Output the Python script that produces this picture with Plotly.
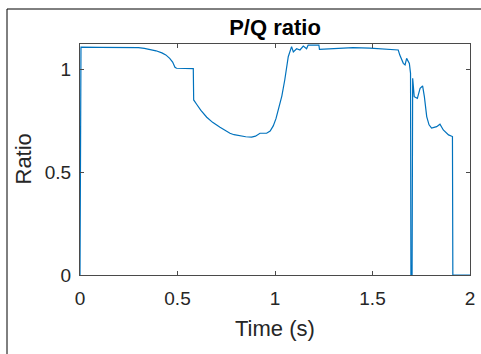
import plotly.graph_objects as go

# Data
time_s = [0, 0.005, 0.1, 0.2, 0.3, 0.33, 0.36, 0.39, 0.42, 0.44, 0.46, 0.475, 0.487, 0.495,
          0.581, 0.583, 0.598, 0.62, 0.65, 0.68, 0.718, 0.74, 0.769, 0.79, 0.82, 0.85, 0.88,
          0.9, 0.923, 0.957, 0.975, 0.991, 1.005, 1.017, 1.035, 1.05, 1.068,
          1.085, 1.094, 1.111, 1.128, 1.145, 1.162, 1.17, 1.2, 1.225, 1.228, 1.3, 1.4, 1.487,
          1.55, 1.632, 1.64, 1.658, 1.667, 1.675, 1.689, 1.695, 1.697, 1.703, 1.706, 1.714,
          1.73, 1.744, 1.757, 1.766, 1.778, 1.79, 1.803, 1.815, 1.829, 1.846, 1.863, 1.89,
          1.91, 1.912, 2.0]
ratio = [0, 1.108, 1.107, 1.107, 1.105, 1.102, 1.097, 1.09, 1.08, 1.07, 1.053, 1.035, 1.01, 1.005,
         1.003, 0.851, 0.83, 0.80, 0.767, 0.742, 0.718, 0.704, 0.689, 0.682, 0.676, 0.672, 0.670,
         0.675, 0.689, 0.689, 0.70, 0.725, 0.76, 0.80, 0.87, 0.948, 1.061,
         1.11, 1.085, 1.10, 1.094, 1.113, 1.10, 1.118, 1.118, 1.118, 1.097, 1.099, 1.105, 1.103,
         1.10, 1.094, 1.069, 1.029, 1.021, 1.053, 1.029, 0.98, 0.0, 0.0, 0.956, 0.867,
         0.859, 0.908, 0.919, 0.867, 0.77, 0.73, 0.714, 0.716, 0.721, 0.733, 0.705, 0.681,
         0.673, 0.0, 0.0]

x_ticks = [0, 0.5, 1, 1.5, 2]
x_ticklabels = ["0", "0.5", "1", "1.5", "2"]
y_ticks = [0, 0.5, 1]
y_ticklabels = ["0", "0.5", "1"]

FONT = "Liberation Sans, Arial, Helvetica, sans-serif"
TXT = "#262626"
AX = "#4a4a4a"

fig = go.Figure()
fig.add_trace(go.Scatter(x=time_s, y=ratio, mode="lines",
                         line=dict(color="#0072BD", width=1.2), showlegend=False))

axis_common = dict(showgrid=False, zeroline=False, showline=True, linecolor=AX, linewidth=1,
                   mirror="ticks", ticks="inside", ticklen=4, tickcolor=AX, automargin=False,
                   tickfont=dict(family=FONT, size=19, color=TXT))

fig.update_layout(
    width=481, height=354,
    margin=dict(l=80, r=11, t=44, b=79, autoexpand=False),
    paper_bgcolor="white", plot_bgcolor="white",
    title=dict(text="<b>P/Q ratio</b>", x=0.5, xref="paper", xanchor="center",
               y=1 - 27 / 354, yref="container", yanchor="middle",
               font=dict(family=FONT, size=22, color="black")),
    xaxis=dict(range=[0, 2], tickvals=x_ticks, ticktext=x_ticklabels,
               ticklabelstandoff=6, **axis_common),
    yaxis=dict(range=[0, 1.123], tickvals=y_ticks, ticktext=y_ticklabels,
               ticklabelstandoff=4, **axis_common),
    annotations=[
        dict(text="Time (s)", xref="paper", yref="paper", x=0.5, y=-(328 - 275) / 231,
             xanchor="center", yanchor="middle", showarrow=False,
             font=dict(family=FONT, size=22, color=TXT)),
        dict(text="Ratio", xref="paper", yref="paper", x=(23 - 80) / 390, y=0.5,
             xanchor="center", yanchor="middle", textangle=-90, showarrow=False,
             font=dict(family=FONT, size=22, color=TXT)),
    ],
    shapes=[
        dict(type="line", xref="paper", yref="paper", x0=(7 - 80) / 390, x1=(7 - 80) / 390,
             y0=1 + (44 - 9) / 231, y1=-(354 - 275) / 231, line=dict(color="black", width=1)),
        dict(type="line", xref="paper", yref="paper", x0=(7 - 80) / 390, x1=(481 - 80) / 390,
             y0=1 + (44 - 9) / 231, y1=1 + (44 - 9) / 231, line=dict(color="black", width=1)),
    ],
)

fig.write_html("out.html")
